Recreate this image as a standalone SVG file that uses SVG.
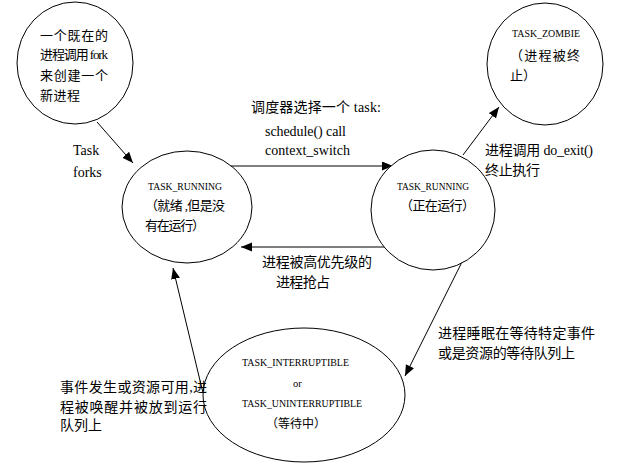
<svg xmlns="http://www.w3.org/2000/svg" width="622" height="464" viewBox="0 0 622 464">
<style>
.node{fill:#fff;stroke:#000;stroke-width:1}
.edge{stroke:#000;stroke-width:1;fill:none;marker-end:url(#ah)}
.cn{font-family:"Liberation Serif","Noto Sans CJK SC",serif;font-size:13px;fill:#000}
.lb{font-family:"Liberation Serif","Noto Sans CJK SC",serif;font-size:14px;fill:#000}
.st{font-family:"Liberation Serif",serif;font-size:10.5px;fill:#000}
</style>
<defs>
<marker id="ah" markerUnits="userSpaceOnUse" markerWidth="12" markerHeight="10" refX="11" refY="4.5" orient="auto">
<path d="M0,0 L11,4.5 L0,9 z" fill="#000"/>
</marker>
</defs>
<rect width="622" height="464" fill="#fff"/>
<g id="connectors">
<line class="edge" x1="97" y1="122" x2="133" y2="163"/>
<line class="edge" x1="227" y1="166" x2="393" y2="166"/>
<line class="edge" x1="388" y1="247" x2="241" y2="247"/>
<line class="edge" x1="463" y1="155" x2="499" y2="107"/>
<line class="edge" x1="462" y1="262" x2="405" y2="376"/>
<line class="edge" x1="203" y1="393" x2="173" y2="268"/>
</g>
<g id="node-fork">
<ellipse class="node" cx="75" cy="63" rx="58" ry="61"/>
<text class="cn" x="40" y="40" textLength="68">一个既在的</text>
<text class="cn" x="40" y="59" textLength="68">进程调用 fork</text>
<text class="cn" x="40" y="80" textLength="68">来创建一个</text>
<text class="cn" x="40" y="100" textLength="40">新进程</text>
</g>
<g id="node-running-ready">
<ellipse class="node" cx="187" cy="207" rx="65" ry="56"/>
<text class="st" x="148" y="190" textLength="74" lengthAdjust="spacingAndGlyphs">TASK_RUNNING</text>
<text class="cn" x="145" y="210" textLength="80">（就绪 ,但是没</text>
<text class="cn" x="145" y="230" textLength="60">有在运行）</text>
</g>
<g id="node-running">
<ellipse class="node" cx="433" cy="210" rx="62" ry="60"/>
<text class="st" x="397" y="190" textLength="72" lengthAdjust="spacingAndGlyphs">TASK_RUNNING</text>
<text class="cn" x="400" y="210" textLength="75">（正在运行）</text>
</g>
<g id="node-zombie">
<ellipse class="node" cx="545" cy="64" rx="58" ry="61"/>
<text class="st" x="512" y="37" textLength="68" lengthAdjust="spacingAndGlyphs">TASK_ZOMBIE</text>
<text class="cn" x="510" y="60" textLength="70">（进程被终</text>
<text class="cn" x="510" y="80">止）</text>
</g>
<g id="node-waiting">
<ellipse class="node" cx="304" cy="395" rx="101" ry="67"/>
<text class="st" x="242" y="366" textLength="107" lengthAdjust="spacingAndGlyphs">TASK_INTERRUPTIBLE</text>
<text class="st" x="293" y="387">or</text>
<text class="st" x="242" y="407" textLength="120" lengthAdjust="spacingAndGlyphs">TASK_UNINTERRUPTIBLE</text>
<text class="cn" x="266" y="428" style="font-size:12px">（等待中）</text>
</g>
<g id="labels">
<text class="lb" x="73" y="155">Task</text>
<text class="lb" x="73" y="177">forks</text>
<text class="lb" x="251" y="112" textLength="130">调度器选择一个 task:</text>
<text class="lb" x="265" y="136" textLength="81">schedule() call</text>
<text class="lb" x="265" y="155" textLength="85">context_switch</text>
<text class="lb" x="262" y="267" textLength="110">进程被高优先级的</text>
<text class="lb" x="276" y="287" textLength="54">进程抢占</text>
<text class="lb" x="485" y="155" textLength="108">进程调用 do_exit()</text>
<text class="lb" x="485" y="175" textLength="55">终止执行</text>
<text class="lb" x="438" y="338" textLength="157">进程睡眠在等待特定事件</text>
<text class="lb" x="438" y="358" textLength="137">或是资源的等待队列上</text>
<text class="lb" x="60" y="392" textLength="147">事件发生或资源可用,进</text>
<text class="lb" x="60" y="412" textLength="147">程被唤醒并被放到运行</text>
<text class="lb" x="60" y="430" textLength="42">队列上</text>
</g>
</svg>
